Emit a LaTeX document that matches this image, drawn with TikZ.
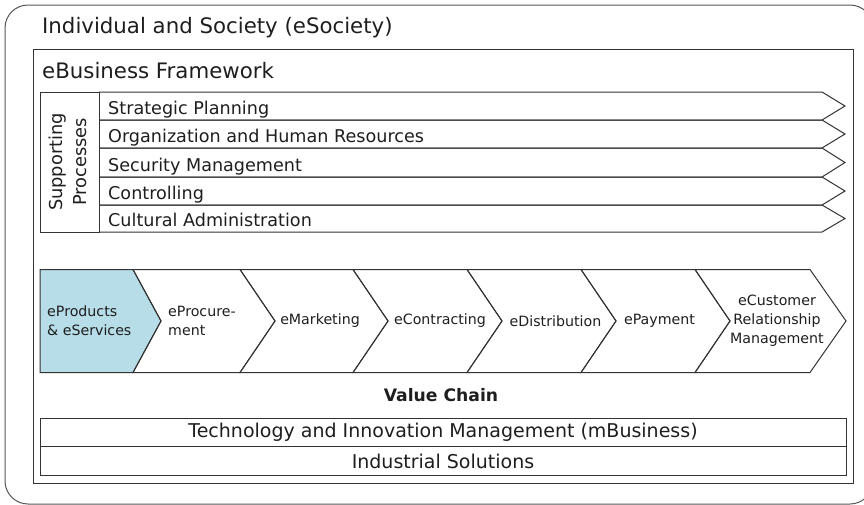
\documentclass[tikz,border=0pt]{standalone}
\usepackage{fontspec}
\setmainfont{DejaVu Sans}
\definecolor{linegray}{HTML}{333333}
\definecolor{outergray}{HTML}{555555}
\definecolor{textgray}{HTML}{1E1E1E}
\definecolor{chainblue}{HTML}{B7DDE8}
\tikzset{
  frame/.style={draw=linegray, line width=1pt},
  outerframe/.style={draw=outergray, line width=1pt, rounded corners=23pt},
  bigtext/.style={inner sep=0pt, text=textgray, font=\fontsize{21.3}{25}\selectfont},
  rowtext/.style={inner sep=0pt, text=textgray, font=\fontsize{17.6}{22}\selectfont, anchor=base west},
  chaintext/.style={inner sep=0pt, text=textgray, font=\fontsize{14.2}{19}\selectfont},
  basetext/.style={inner sep=0pt, text=textgray, font=\fontsize{19}{23}\selectfont},
}
\begin{document}
\begin{tikzpicture}[x=1pt,y=-1pt]
\useasboundingbox (0,0) rectangle (864,504);
\clip (0,0) rectangle (864,504);
% outer frame
\draw[outerframe] (5,5) rectangle (873,504);
\node[bigtext, anchor=base west] (society) at (42,33) {Individual and Society (eSociety)};
% eBusiness frame
\draw[frame] (33,49) rectangle (853,483);
\node[bigtext, anchor=base west] (ebiz) at (42,78) {eBusiness Framework};
% supporting processes
\draw[frame] (40,92) rectangle (99,232);
\node[rowtext, anchor=center, align=center, rotate=90, font=\fontsize{17.8}{24}\selectfont] (supp) at (68,162) {Supporting\\Processes};
\foreach \t/\b/\lab/\nm in {92/120/Strategic Planning/r1, 120/148/Organization and Human Resources/r2, 148/177/Security Management/r3, 177/205/Controlling/r4, 205/232/Cultural Administration/r5}{
  \draw[frame, line join=miter] (99,\t) -- (822,\t) -- (845,{(\t+\b)/2}) -- (822,\b) -- (99,\b);
  \node[rowtext] (\nm) at (108,{\b-5.5}) {\lab};
}
% value chain
\def\ct{269.5}\def\cb{372.5}\def\cm{321}
\draw[frame, fill=chainblue, line join=miter] (40,\ct) -- (133,\ct) -- (161,\cm) -- (133,\cb) -- (40,\cb) -- cycle;
\foreach \l/\r/\o in {133/240/28, 240/353/35, 353/467/35, 467/581/35, 581/695/35}{
  \draw[frame, line join=miter] (\l,\ct) -- (\r,\ct) -- ({\r+35},\cm) -- (\r,\cb) -- (\l,\cb) -- ({\l+\o},\cm) -- cycle;
}
\draw[frame, line join=miter] (695,\ct) -- (810,\ct) -- (846,\cm) -- (810,\cb) -- (695,\cb) -- (730,\cm) -- cycle;
\node[chaintext, anchor=west, align=left] (c1) at (47,\cm) {eProducts\\\& eServices};
\node[chaintext, anchor=west, align=left] (c2) at (168,\cm) {eProcure-\\ment};
\node[chaintext] (c3) at (320,\cm) {eMarketing};
\node[chaintext] (c4) at (440,\cm) {eContracting};
\node[chaintext] (c5) at (555.5,\cm) {eDistribution};
\node[chaintext] (c6) at (659.5,\cm) {ePayment};
\node[chaintext, align=center] (c7) at (777,\cm) {eCustomer\\Relationship\\Management};
\node[chaintext, font=\bfseries\fontsize{17.2}{20}\selectfont] (vc) at (441,395) {Value Chain};
% bottom boxes
\draw[frame] (40,418) rectangle (846,446);
\draw[frame] (40,446) rectangle (846,475);
\node[basetext] (tech) at (443,432) {Technology and Innovation Management (mBusiness)};
\node[basetext] (ind) at (443,461) {Industrial Solutions};
\end{tikzpicture}
\end{document}
